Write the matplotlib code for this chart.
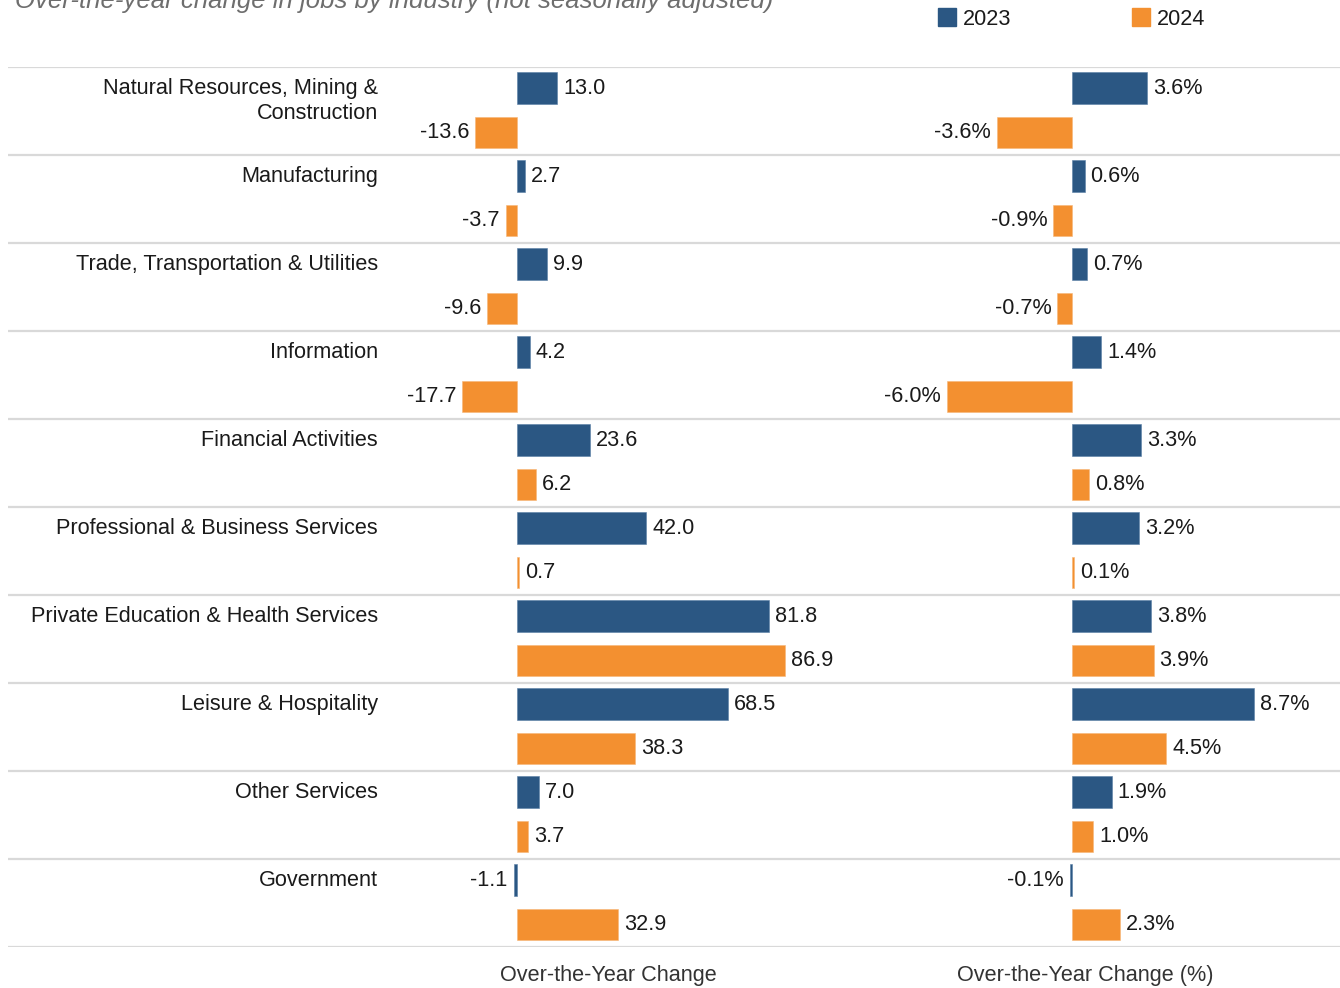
import matplotlib
matplotlib.use("Agg")
import matplotlib.pyplot as plt
from matplotlib.patches import Patch

# ---- data ----
categories = ["Natural Resources, Mining &\nConstruction", "Manufacturing",
              "Trade, Transportation & Utilities", "Information", "Financial Activities",
              "Professional & Business Services", "Private Education & Health Services",
              "Leisure & Hospitality", "Other Services", "Government"]
chg_2023 = [13.0, 2.7, 9.9, 4.2, 23.6, 42.0, 81.8, 68.5, 7.0, -1.1]
chg_2024 = [-13.6, -3.7, -9.6, -17.7, 6.2, 0.7, 86.9, 38.3, 3.7, 32.9]
pct_2023 = [3.6, 0.6, 0.7, 1.4, 3.3, 3.2, 3.8, 8.7, 1.9, -0.1]
pct_2024 = [-3.6, -0.9, -0.7, -6.0, 0.8, 0.1, 3.9, 4.5, 1.0, 2.3]
series_names = ["2023", "2024"]
title = "Over-the-year change in jobs by industry (not seasonally adjusted)"
xtitles = ["Over-the-Year Change", "Over-the-Year Change (%)"]

# ---- style ----
BLUE = "#2b5783"
ORANGE = "#f39030"
GRID = "#d9d9d9"
TXT = "#1a1a1a"
FS = 15.6
plt.rcParams['font.family'] = ['Liberation Sans', 'DejaVu Sans']

W, H = 1340, 988
fig = plt.figure(figsize=(W / 100, H / 100), dpi=100)

def fx(px):
    return px / W

def fy(py):
    return 1 - py / H

top_px, bot_px = 67, 947
n = len(categories)
ylim = (n - 0.5, -0.5)
off_b, off_o, bh = -0.26, 0.245, 0.36

def make_ax(x0, x1):
    ax = fig.add_axes([fx(x0), fy(bot_px), fx(x1) - fx(x0), fy(top_px) - fy(bot_px)])
    ax.set_ylim(*ylim)
    ax.axis('off')
    ax.patch.set_alpha(0)
    return ax

# background axes: separators and category labels (x in pixels)
bg = make_ax(8, 1340)
bg.set_xlim(8, 1340)
for k in range(n + 1):
    bg.axhline(k - 0.5, color=GRID, lw=1.6, zorder=0)
row_px = (bot_px - top_px) / n
for i, cat in enumerate(categories):
    for j, line in enumerate(cat.split("\n")):
        bg.text(378, i + off_b + j * 25 / row_px, line, ha='right', va='center',
                fontsize=FS, color=TXT)

def panel(ax, v23, v24, fmt, pad_px, scale):
    ys = range(n)
    ax.barh([y + off_b for y in ys], v23, height=bh, color=BLUE, edgecolor='#5a7fa6', lw=0.4)
    ax.barh([y + off_o for y in ys], v24, height=bh, color=ORANGE, edgecolor='#f7b678', lw=0.4)
    pad = pad_px / scale
    for vals, off in ((v23, off_b), (v24, off_o)):
        for y, v in zip(ys, vals):
            if v >= 0:
                ax.text(v + pad, y + off, fmt.format(v), ha='left', va='center',
                        fontsize=FS, color=TXT)
            else:
                ax.text(v - pad, y + off, fmt.format(v), ha='right', va='center',
                        fontsize=FS, color=TXT)

# left panel: zero at x=517 px, 3.08 px per unit
s1 = 3.08
axL = make_ax(400, 900)
axL.set_xlim((400 - 517) / s1, (900 - 517) / s1)
panel(axL, chg_2023, chg_2024, "{:.1f}", 6, s1)

# right panel: zero at x=1072 px, 20.9 px per unit
s2 = 20.9
axR = make_ax(900, 1340)
axR.set_xlim((900 - 1072) / s2, (1340 - 1072) / s2)
panel(axR, pct_2023, pct_2024, "{:.1f}%", 6, s2)

# axis titles
fig.text(fx(608), fy(975), xtitles[0], ha='center', va='center', fontsize=FS, color='#333333')
fig.text(fx(1085), fy(975), xtitles[1], ha='center', va='center', fontsize=FS, color='#333333')

# title (cut at the top as in the reference)
fig.text(fx(15), fy(8), title, ha='left', va='baseline', fontsize=18.5,
         style='italic', color='#6e6e6e')

# legend
handles = [Patch(facecolor=BLUE, edgecolor=BLUE), Patch(facecolor=ORANGE, edgecolor=ORANGE)]
fig.legend(handles, series_names, loc='center left', bbox_to_anchor=(fx(938), fy(19)),
           ncol=2, frameon=False, fontsize=FS, handlelength=0.85, handleheight=0.85,
           handletextpad=0.3, columnspacing=5.55, borderpad=0, borderaxespad=0,
           labelcolor=TXT)

fig.savefig("out.png", dpi=100)
